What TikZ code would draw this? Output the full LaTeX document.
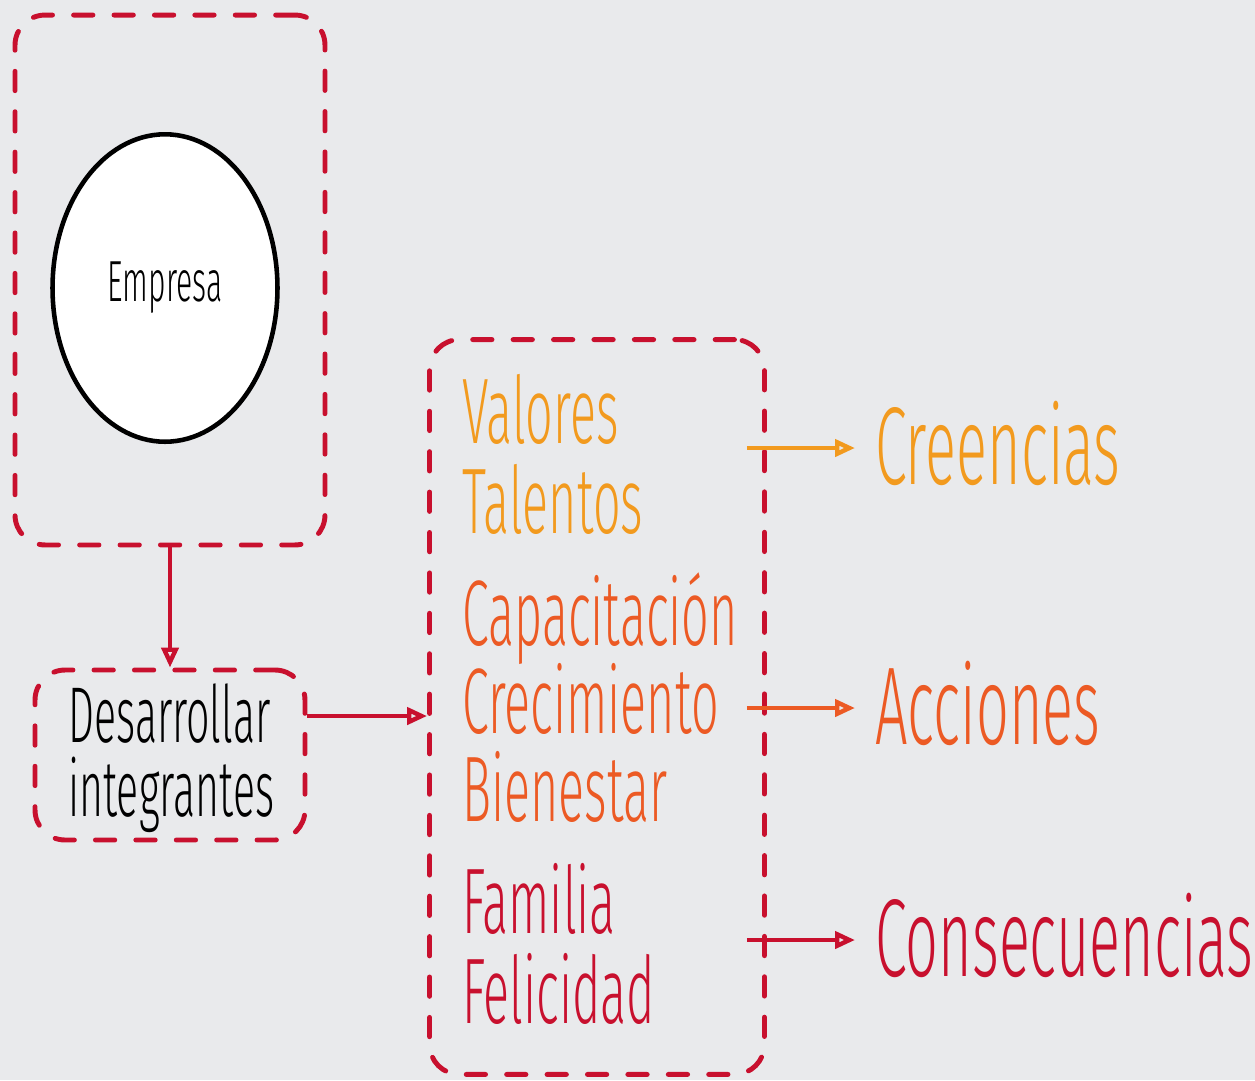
\documentclass[tikz,border=0pt]{standalone}
\usepackage{fontspec}
\setmainfont{Fira Sans}
\newfontfamily\mano[FakeStretch=0.52, UprightFont=* Light]{Fira Sans}
\usetikzlibrary{arrows.meta,shapes.geometric,positioning}

\definecolor{fondo}{HTML}{E9EAEC}
\definecolor{rojo}{HTML}{C8102E}
\definecolor{naranja}{HTML}{F29A1E}
\definecolor{naranjarojo}{HTML}{EC5A24}

\begin{document}
\begin{tikzpicture}[
  x=0.02cm,
  y=-0.02cm,
  caja/.style={
    draw=rojo,
    line width=2.8pt,
    dash pattern=on 11pt off 12pt,
    line cap=round,
    rounded corners=0.6cm
  },
  flecha/.style={
    line width=2.5pt,
    -{Triangle[open, length=0.4cm, width=0.34cm]}
  },
  lista/.style={anchor=base west, inner sep=0, font=\mano\fontsize{53}{53}\selectfont},
  renglon/.style={anchor=base west, inner sep=0, font=\mano\fontsize{45}{45}\selectfont},
  salida/.style={anchor=west, inner sep=0.4cm, font=\mano\fontsize{63}{63}\selectfont}
]

%--------------------
% Fondo
%--------------------
\fill[fondo] (0,0) rectangle (1255,1080);
\useasboundingbox (0,0) rectangle (1255,1080);

%--------------------
% Cajas
%--------------------
\node[caja, minimum width=5.4cm, minimum height=3.4cm] (caja2) at (170,755) {};
\node[caja, minimum width=6.2cm, minimum height=10.6cm] (caja1) at (170,280) {};
\node[caja, minimum width=6.7cm, minimum height=14.7cm] (caja3) at (597,707) {};

% texto de la caja 2, una linea por nodo
\node[renglon] (desarrollar) at (68,742) {Desarrollar};
\node[renglon] (integrantes) at (68,816) {integrantes};

%--------------------
% Empresa
%--------------------
\node[ellipse, draw=black, fill=white, line width=2.6pt,
  minimum width=4.5cm, minimum height=6.15cm, inner sep=0,
  font=\mano\fontsize{33}{33}\selectfont] (empresa) at (165,288) {Empresa};

%--------------------
% Conectores izquierda
%--------------------
\draw[flecha, rojo] (caja1.south) -- (caja2.north);
\coordinate (d2) at ([yshift=0.78cm]caja2.east);
\draw[flecha, rojo] (d2) -- (d2 -| caja3.west);

%--------------------
% Lista dentro de la caja 3
%--------------------
\foreach \nom/\txt/\col/\y in {
  valores/Valores/naranja/443,
  talentos/Talentos/naranja/533,
  capacitacion/Capacitación/naranjarojo/645,
  crecimiento/Crecimiento/naranjarojo/733,
  bienestar/Bienestar/naranjarojo/821,
  familia/Familia/rojo/933,
  felicidad/Felicidad/rojo/1023} {
  \node[lista, text=\col] (\nom) at (462,\y) {\txt};
}

%--------------------
% Salidas a la derecha
%--------------------
\coordinate (c3e) at ([xshift=-0.4cm]caja3.east);
\foreach \nom/\txt/\col/\y in {
  creencias/Creencias/naranja/443,
  acciones/Acciones/naranjarojo/703,
  consecuencias/Consecuencias/rojo/935} {
  \node[salida, text=\col] (\nom) at (855,\y) {\txt};
  \draw[flecha, \col] ([yshift=-0.1cm]c3e |- \nom.west) -- ([yshift=-0.1cm]\nom.west);
}

\end{tikzpicture}
\end{document}
